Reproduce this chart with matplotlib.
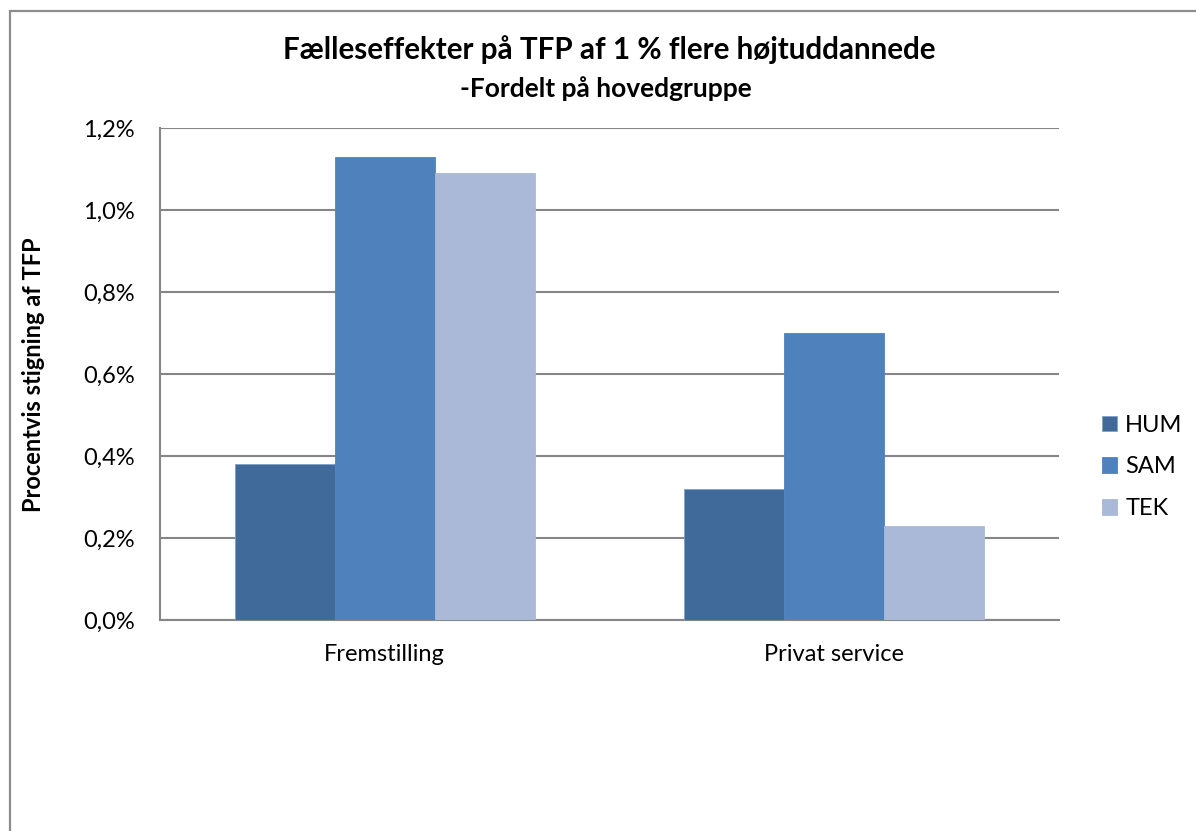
import numpy as np
import matplotlib
matplotlib.use("Agg")
import matplotlib.pyplot as plt
from matplotlib.patches import Rectangle
from matplotlib.ticker import FuncFormatter

# data (percent)
categories = ['Fremstilling', 'Privat service']
series_names = ['HUM', 'SAM', 'TEK']
hum = [0.38, 0.32]
sam = [1.13, 0.70]
tek = [1.09, 0.23]
colors = ['#3F6A9A', '#4F81BD', '#AAB9D7']
y_ticks = [0.0, 0.2, 0.4, 0.6, 0.8, 1.0, 1.2]

plt.rcParams['font.family'] = ['Lato', 'DejaVu Sans']

W, H = 1196, 831
fig = plt.figure(figsize=(W / 100, H / 100), dpi=100)

# outer chart border (runs off right and bottom edges)
fig.patches.append(Rectangle((9.5 / W, -0.5), 2, 1.5 - 10.5 / H, transform=fig.transFigure,
                             fill=False, edgecolor='#8C8C8C', linewidth=1.6, clip_on=False))

ax = fig.add_axes([160 / W, 1 - 620 / H, (1059 - 160) / W, (620 - 128) / H])

x = np.arange(len(categories))
bw = 0.2225
for i, (name, vals) in enumerate(zip(series_names, [hum, sam, tek])):
    ax.bar(x + (i - 1) * bw, vals, width=bw, color=colors[i], label=name,
           edgecolor='#7FA0C8' if i == 0 else colors[i], linewidth=0.6, zorder=3)

ax.set_xlim(-0.5, 1.5)
ax.set_ylim(0, 1.2)
ax.set_yticks(y_ticks)
ax.yaxis.set_major_formatter(FuncFormatter(lambda v, p: f'{v:.1f}%'.replace('.', ',')))
ax.set_xticks(x)
ax.set_xticklabels(categories)
ax.tick_params(axis='both', length=0, labelsize=17, colors='black')
ax.tick_params(axis='y', pad=18)
ax.tick_params(axis='x', pad=17)

ax.yaxis.grid(True, color='#868686', linewidth=1.5, zorder=0)
for s in ['top', 'right']:
    ax.spines[s].set_visible(False)
for s in ['left', 'bottom']:
    ax.spines[s].set_color('#868686')
    ax.spines[s].set_linewidth(1.5)

fig.text(34 / W, 1 - 375 / H, 'Procentvis stigning af TFP', rotation=90,
         ha='center', va='center', fontsize=17, fontweight='bold')

fig.text(609 / W, 1 - 50 / H, 'Fælleseffekter på TFP af 1 % flere højtuddannede',
         ha='center', va='center', fontsize=21.3, fontweight='bold')
fig.text(606 / W, 1 - 89 / H, '-Fordelt på hovedgruppe',
         ha='center', va='center', fontsize=19, fontweight='bold')

leg = ax.legend(loc='center left', bbox_to_anchor=(1.037, 0.311), frameon=False,
                borderaxespad=0, fontsize=17, handlelength=0.65, handleheight=0.65,
                labelspacing=0.88, handletextpad=0.35)

fig.savefig('out.png', dpi=100, facecolor='white')
